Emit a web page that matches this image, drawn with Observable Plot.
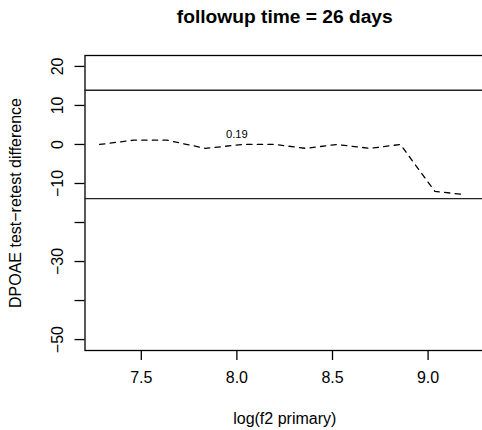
<!DOCTYPE html>
<html><head><meta charset="utf-8">
<script src="https://cdn.jsdelivr.net/npm/d3@7"></script>
<script src="https://cdn.jsdelivr.net/npm/@observablehq/plot@0.6"></script>
<style>
html,body{margin:0;padding:0;background:#fff;overflow:hidden;}
#chart{width:482px;height:430px;overflow:hidden;}
</style></head><body><div id="chart"></div>
<script>
const title = "followup time = 26 days";
const xLabel = "log(f2 primary)";
const yLabel = "DPOAE test\u2212retest difference";
const logF2 = [7.282, 7.460, 7.634, 7.835, 8.030, 8.200, 8.360, 8.523, 8.695, 8.855, 9.035, 9.195];
const diff = [0, 1.1, 1.1, -1.0, 0, 0, -1.0, 0, -1.0, 0, -12.0, -12.9];
const limits = [13.9, -13.9];
const annotX = [8.0];
const annotY = [2.7];
const annotLabel = ["0.19"];
const xTicks = [7.5, 8.0, 8.5, 9.0];
const xTickLabels = ["7.5", "8.0", "8.5", "9.0"];
const yTicks = [20, 10, 0, -10, -20, -30, -40, -50];
const yTickLabels = ["20", "10", "0", "\u221210", "", "\u221230", "", "\u221250"];

const data = logF2.map((x, i) => ({x, y: diff[i]}));
const annot = annotX.map((x, i) => ({x, y: annotY[i], label: annotLabel[i]}));
const xLab = new Map(xTicks.map((t, i) => [t, xTickLabels[i]]));
const yLab = new Map(yTicks.map((t, i) => [t, yTickLabels[i]]));

const plot = Plot.plot({
  width: 482, height: 430,
  marginLeft: 84.5, marginRight: -2, marginTop: 55, marginBottom: 80,
  style: {fontFamily: "'Liberation Sans', Arial, sans-serif", fontSize: "16px", background: "#fff", color: "#000", overflow: "hidden"},
  x: {domain: [7.2055, 9.295], label: null},
  y: {domain: [-52.8, 22.8], label: null},
  marks: [
    Plot.frame({stroke: "#000", strokeWidth: 1.3}),
    Plot.axisX(xTicks, {tickSize: 10, tickPadding: 11, tickFormat: d => xLab.get(d), fontSize: 16, strokeWidth: 1.3, label: null}),
    Plot.axisY(yTicks, {tickSize: 10, tickFormat: () => "", strokeWidth: 1.3, label: null}),
    Plot.text(yTicks, {y: d => d, frameAnchor: "left", dx: -27, rotate: -90, textAnchor: "middle", lineAnchor: "middle", text: d => yLab.get(d), fontSize: 16}),
    Plot.ruleY(limits, {stroke: "#222", strokeWidth: 1.3}),
    Plot.line(data, {x: "x", y: "y", stroke: "#000", strokeWidth: 1.3, strokeDasharray: "5.3,5.3"}),
    Plot.text(annot, {x: "x", y: "y", text: "label", fontSize: 11.2}),
    Plot.text([title], {frameAnchor: "top", dy: -39, lineAnchor: "middle", text: d => d, fontWeight: "bold", fontSize: 19.2}),
    Plot.text([xLabel], {frameAnchor: "bottom", dy: 68, lineAnchor: "middle", text: d => d, fontSize: 16}),
    Plot.text([yLabel], {frameAnchor: "left", dx: -69, rotate: -90, textAnchor: "middle", lineAnchor: "middle", text: d => d, fontSize: 16})
  ]
});
document.getElementById("chart").appendChild(plot);
</script></body></html>
